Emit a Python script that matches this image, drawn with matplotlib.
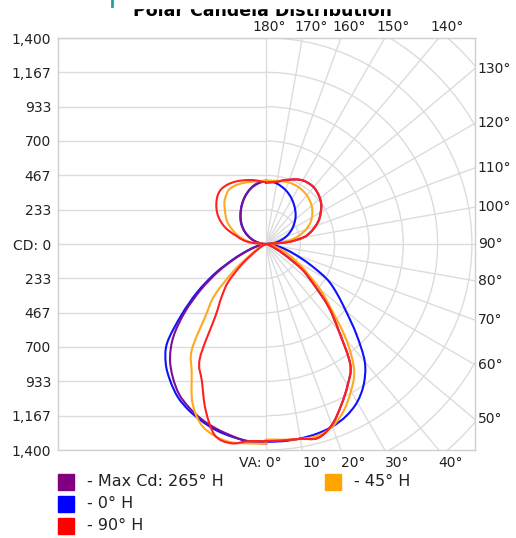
import numpy as np
import matplotlib
matplotlib.use('Agg')
import matplotlib.pyplot as plt
from matplotlib.patches import Arc, Rectangle, PathPatch
from matplotlib.path import Path

# vertical angles, 0 = nadir, 180 = zenith
va = np.arange(0, 181, 5)

# candela values, one list per half plane
blue_right = [1345, 1345, 1342, 1335, 1320, 1290, 1240, 1160, 1045, 870, 710, 590, 480, 330, 215, 135, 75, 30, 0,
              38, 75, 110, 145, 175, 205, 232, 260, 285, 308, 330, 352, 372, 390, 405, 418, 426, 430]
blue_left = [1350, 1345, 1330, 1310, 1280, 1245, 1200, 1135, 1060, 950, 750, 570, 400, 245, 140, 75, 35, 12, 0,
             25, 52, 80, 108, 136, 165, 192, 218, 243, 268, 294, 320, 346, 370, 392, 408, 420, 428]
purple_right = [1340, 1340, 1344, 1364, 1309, 1209, 1109, 999, 769, 599, 419, 299, 149, 70, 30, 15, 8, 3, 0,
                149, 259, 314, 359, 399, 429, 459, 479, 494, 504, 504, 499, 484, 464, 447, 429, 421, 418]
purple_left = [1355, 1350, 1325, 1300, 1270, 1230, 1180, 1105, 1015, 890, 720, 540, 375, 230, 130, 70, 30, 10, 0,
               26, 54, 84, 112, 140, 168, 195, 222, 246, 270, 296, 322, 348, 372, 394, 412, 424, 430]
orange_right = [1330, 1335, 1345, 1350, 1320, 1250, 1155, 1045, 850, 630, 480, 340, 240, 165, 100, 50, 20, 6, 0,
                100, 180, 240, 290, 330, 360, 385, 405, 420, 432, 440, 445, 447, 446, 440, 435, 432, 430]
orange_left = [1355, 1360, 1368, 1350, 1300, 1185, 1010, 880, 640, 495, 290, 135, 60, 30, 15, 8, 4, 2, 0,
               80, 140, 185, 225, 265, 305, 335, 365, 400, 425, 445, 450, 447, 442, 436, 432, 430, 430]
red_right = [1340, 1340, 1345, 1365, 1310, 1210, 1110, 1000, 770, 600, 420, 300, 150, 70, 30, 15, 8, 3, 0,
             150, 260, 315, 360, 400, 430, 460, 480, 495, 505, 505, 500, 485, 465, 448, 430, 422, 418]
red_left = [1340, 1345, 1375, 1345, 1200, 1030, 900, 600, 470, 360, 210, 85, 35, 15, 8, 4, 2, 1, 0,
            100, 160, 205, 275, 330, 375, 410, 440, 465, 480, 482, 478, 470, 460, 450, 440, 428, 418]

cd_ticks = [-1400, -1167, -933, -700, -467, -233, 0, 233, 467, 700, 933, 1167, 1400]
cd_labels = ['1,400', '1,167', '933', '700', '467', '233', 'CD: 0', '233', '467', '700', '933', '1,167', '1,400']
top_angles = [180, 170, 160, 150, 140]
side_angles = [130, 120, 110, 100, 90, 80, 70, 60, 50]
bottom_angles = [0, 10, 20, 30, 40]

GRID = '#dcdcdc'
XMIN, XMAX, YMIN, YMAX = -1414, 1421, -1400, 1400


def draw_grid(ax):
    step = 1400 / 6
    # left half: plain horizontal lines
    ax.hlines(np.arange(-6, 7) * step, XMIN, 0, color=GRID, lw=1, zorder=1)
    ax.axvline(0, color=GRID, lw=1, zorder=1)
    # right half: polar rings and spokes
    for k in range(1, 11):
        ax.add_patch(Arc((0, 0), 2 * k * step, 2 * k * step, theta1=-90, theta2=90,
                         color=GRID, lw=1, zorder=1))
    for a in range(10, 180, 10):
        t = np.radians(a)
        ax.plot([0, 3000 * np.sin(t)], [0, -3000 * np.cos(t)], color=GRID, lw=1, zorder=1)


def draw_curve(ax, left, right, color, z):
    t = np.radians(va)
    left = np.array(left, dtype=float)
    right = np.array(right, dtype=float)
    x = np.concatenate([-left[::-1] * np.sin(t[::-1]), right * np.sin(t)])
    y = np.concatenate([-left[::-1] * np.cos(t[::-1]), -right * np.cos(t)])
    p = np.column_stack([x, y])
    n = len(p)
    # closed smooth path through the points (catmull-rom as bezier)
    verts = [p[0]]
    codes = [Path.MOVETO]
    for i in range(n):
        p0, p1, p2, p3 = p[i - 1], p[i], p[(i + 1) % n], p[(i + 2) % n]
        verts += [p1 + (p2 - p0) / 6, p2 - (p3 - p1) / 6, p2]
        codes += [Path.CURVE4] * 3
    ax.add_patch(PathPatch(Path(verts, codes), fill=False, edgecolor=color, lw=1.5,
                           zorder=z, joinstyle='round'))


fig = plt.figure(figsize=(5.16, 5.38), dpi=100)
ax = fig.add_axes([58 / 516, 1 - 450 / 538, 417 / 516, 412 / 538])
ax.set_xlim(XMIN, XMAX)
ax.set_ylim(YMIN, YMAX)
for s in ax.spines.values():
    s.set_color('#cfcfcf')
    s.set_linewidth(1)

draw_grid(ax)

draw_curve(ax, blue_left, blue_right, '#1010ff', 3)
draw_curve(ax, purple_left, purple_right, '#7a0f9a', 4)
draw_curve(ax, orange_left, orange_right, '#ffa820', 5)
draw_curve(ax, red_left, red_right, '#ff2020', 6)

ax.set_xticks([])
ax.set_yticks(cd_ticks, cd_labels)
ax.tick_params(axis='y', length=0, pad=5, labelsize=10, labelcolor='#222222')

# angle labels where the spokes meet the frame
for a in top_angles:
    xe = YMAX * np.tan(np.radians(180 - a))
    dx = -10 if a == 180 else -6
    ax.annotate('%d°' % a, (xe, YMAX), xytext=(dx, 3), textcoords='offset points',
                ha='left', va='bottom', fontsize=10, color='#222222', annotation_clip=False)
for a in side_angles:
    ye = -XMAX / np.tan(np.radians(a))
    ax.annotate('%d°' % a, (XMAX, ye), xytext=(2, 0), textcoords='offset points',
                ha='left', va='center', fontsize=10, color='#222222', annotation_clip=False)
for a in bottom_angles:
    xe = -YMIN * np.tan(np.radians(a))
    txt = 'VA: 0°' if a == 0 else '%d°' % a
    ha = 'right' if a == 0 else 'left'
    off = 11 if a == 0 else 0
    ax.annotate(txt, (xe, YMIN), xytext=(off, -4), textcoords='offset points',
                ha=ha, va='top', fontsize=10, color='#222222', annotation_clip=False)

# legend
W, H = 516.0, 538.0
legend = [('- Max Cd: 265° H', '#800080', 58, 482),
          ('- 0° H', '#0000ff', 58, 504),
          ('- 90° H', '#ff0000', 58, 526),
          ('- 45° H', '#ffa500', 325, 482)]
for label, c, px, py in legend:
    fig.patches.append(Rectangle((px / W, 1 - (py + 8) / H), 16 / W, 16 / H,
                                 transform=fig.transFigure, color=c))
    fig.text((px + 29) / W, 1 - py / H, label, ha='left', va='center', fontsize=11.5, color='#222222')

# title, cut off at the top like the source
fig.text(262 / W, 1 - 16 / H, 'Polar Candela Distribution', ha='center', va='baseline',
         fontsize=12.5, fontweight='bold', color='black')
fig.patches.append(Rectangle((0, 1 - 8 / H), 1, 8 / H, transform=fig.transFigure,
                             color='white', zorder=10))
fig.lines.append(plt.Line2D([112 / W, 112 / W], [1, 1 - 6 / H], transform=fig.transFigure,
                            color='#20a0a0', lw=2, zorder=11))

fig.savefig('out.png', dpi=100)
